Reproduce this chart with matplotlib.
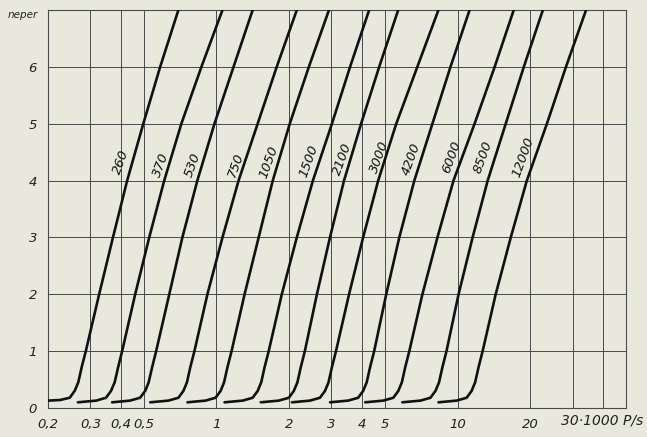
import numpy as np
import matplotlib.pyplot as plt

# attenuation curves, x in 1000 P/s, y in neper
labels = ['260', '370', '530', '750', '1050', '1500', '2100', '3000', '4200', '6000', '8500', '12000']
y_levels = [0.10, 0.13, 0.18, 0.30, 0.45, 0.72, 1, 2, 3, 4, 5, 6, 7]
y_first = [0.13, 0.14, 0.18, 0.30, 0.45, 0.72, 1, 2, 3, 4, 5, 6, 7]

x_260 = [0.200, 0.224, 0.246, 0.258, 0.267, 0.276, 0.287, 0.326, 0.372, 0.426, 0.497, 0.584, 0.695]
x_370 = [0.266, 0.317, 0.348, 0.365, 0.378, 0.391, 0.406, 0.460, 0.526, 0.607, 0.715, 0.866, 1.059]
x_530 = [0.369, 0.438, 0.482, 0.506, 0.523, 0.541, 0.562, 0.637, 0.722, 0.833, 0.981, 1.177, 1.413]
x_750 = [0.531, 0.632, 0.695, 0.729, 0.754, 0.779, 0.810, 0.917, 1.059, 1.235, 1.482, 1.778, 2.154]
x_1050 = [0.758, 0.901, 0.991, 1.040, 1.075, 1.111, 1.155, 1.308, 1.496, 1.712, 2.014, 2.417, 2.929]
x_1500 = [1.080, 1.285, 1.413, 1.482, 1.533, 1.584, 1.647, 1.866, 2.154, 2.512, 3.013, 3.583, 4.299]
x_2100 = [1.526, 1.814, 1.996, 2.093, 2.166, 2.238, 2.326, 2.610, 2.957, 3.382, 3.981, 4.732, 5.675]
x_3000 = [2.055, 2.443, 2.687, 2.819, 2.916, 3.013, 3.132, 3.548, 4.058, 4.687, 5.570, 6.813, 8.333]
x_4200 = [2.959, 3.518, 3.870, 4.059, 4.199, 4.339, 4.510, 5.061, 5.733, 6.620, 7.867, 9.350, 11.22]
x_6000 = [4.139, 4.922, 5.414, 5.679, 5.875, 6.070, 6.310, 7.150, 8.254, 9.624, 11.77, 14.26, 17.11]
x_8500 = [5.90, 7.02, 7.72, 8.10, 8.38, 8.66, 9.00, 10.10, 11.55, 13.34, 15.85, 18.84, 22.60]
x_12000 = [8.34, 9.91, 10.91, 11.44, 11.83, 12.23, 12.71, 14.40, 16.63, 19.39, 23.49, 28.18, 34.14]

# where the curve labels sit
label_x = [0.400, 0.590, 0.800, 1.200, 1.650, 2.42, 3.33, 4.75, 6.45, 9.45, 12.75, 18.70]
label_y = [4.32, 4.28, 4.28, 4.28, 4.32, 4.35, 4.38, 4.42, 4.38, 4.42, 4.42, 4.42]

xticks = [0.2, 0.3, 0.4, 0.5, 1, 2, 3, 4, 5, 10, 20, 30, 40, 50]
xticklabels = ['0,2', '0,3', '0,4', '0,5', '1', '2', '3', '4', '5', '10', '20', '', '', '']
yticks = [0, 1, 2, 3, 4, 5, 6]

curves = [x_260, x_370, x_530, x_750, x_1050, x_1500, x_2100, x_3000, x_4200, x_6000, x_8500, x_12000]

bg = '#e8e8dc'
fig = plt.figure(figsize=(6.47, 4.37), dpi=100, facecolor=bg)
ax = fig.add_axes([48/647, 29/437, 578/647, 398/437])
ax.set_facecolor(bg)
ax.set_xscale('log')
ax.set_xlim(0.2, 50)
ax.set_ylim(0, 7)

# grid drawn by hand so only the printed lines show
for xv in xticks:
    ax.axvline(xv, color='#4a4a4a', lw=0.7, zorder=1)
for yv in range(1, 8):
    ax.axhline(yv, color='#4a4a4a', lw=0.7, zorder=1)

for i, xs in enumerate(curves):
    ys = y_first if i == 0 else y_levels
    ax.plot(xs, ys, color='#111111', lw=1.9, solid_capstyle='round',
            solid_joinstyle='round', zorder=3)
    ax.text(label_x[i], label_y[i], labels[i], rotation=70, ha='center', va='center',
            fontsize=9.5, style='italic', color='#111111')

ax.set_xticks(xticks)
ax.set_xticklabels(xticklabels, style='italic', fontsize=9.5)
ax.xaxis.set_minor_locator(plt.NullLocator())
ax.set_yticks(yticks)
ax.set_yticklabels([str(v) for v in yticks], style='italic', fontsize=9.5)
ax.tick_params(axis='both', length=0, colors='#222222')
ax.tick_params(axis='x', pad=7)
ax.tick_params(axis='y', pad=8)
for s in ax.spines.values():
    s.set_color('#4a4a4a')
    s.set_linewidth(0.8)

ax.text(27, -0.09, '30·1000 P/s', ha='left', va='top', fontsize=10, style='italic',
        color='#222222')
ax.text(-0.018, 0.987, 'neper', ha='right', va='center', fontsize=7.5, style='italic',
        color='#222222', transform=ax.transAxes)

fig.savefig('out.png', dpi=100, facecolor=bg)
